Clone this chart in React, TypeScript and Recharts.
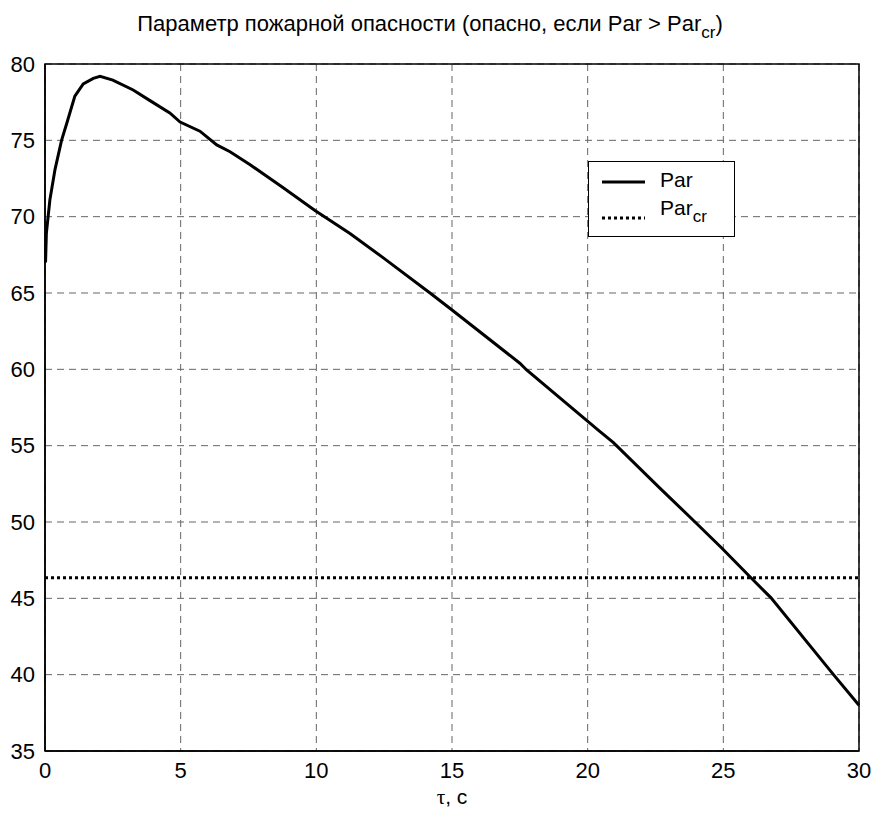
import React from 'react';
import {
  LineChart,
  Line,
  XAxis,
  YAxis,
  CartesianGrid,
  ReferenceLine,
  ReferenceArea,
} from 'recharts';

// Время, с
const tau = [
  0.02, 0.05, 0.18, 0.37, 0.61, 0.8, 1.1, 1.41, 1.78, 2.03, 2.5, 3.25, 3.87, 4.6,
  4.98, 5.71, 6.33, 6.82, 7.56, 8.78, 9.95, 11.24, 12.47, 14.19, 14.99, 17.5,
  17.75, 20.4, 20.95, 22.67, 23.9, 24.94, 25.99, 26.75, 29.06, 30,
];

// Параметр пожарной опасности Par
const par = [
  67.0, 68.9, 71.1, 73.1, 75.0, 76.1, 77.9, 78.7, 79.06, 79.2, 78.95, 78.3, 77.6,
  76.8, 76.2, 75.6, 74.7, 74.25, 73.4, 71.9, 70.4, 68.9, 67.3, 65.0, 63.9, 60.4,
  59.96, 56.0, 55.2, 52.2, 50.1, 48.3, 46.4, 45.05, 40.0, 38.0,
];

// Критическое значение Par_cr
const parCr = 46.35;

const xTicks = [0, 5, 10, 15, 20, 25, 30];
const yTicks = [35, 40, 45, 50, 55, 60, 65, 70, 75, 80];

const data = tau.map((t, i) => ({ t, par: par[i] }));

const FONT = '"Liberation Sans", Arial, sans-serif';
const TICK_FONT = 22;

// легенда рисуется поверх графика, чтобы не отнимать место у области построения
const LegendBox = () => (
  <div
    style={{
      position: 'absolute',
      left: 588,
      top: 161,
      width: 147,
      height: 76,
      border: '1.5px solid #000',
      background: '#fff',
      fontFamily: FONT,
      fontSize: 21,
      boxSizing: 'border-box',
    }}
  >
    <svg width={60} height={74} style={{ position: 'absolute', left: 0, top: 0 }}>
      <line x1={13} x2={56} y1={20} y2={20} stroke="#000" strokeWidth={3} />
      <line x1={13} x2={56} y1={56} y2={56} stroke="#000" strokeWidth={3} strokeDasharray="3 3" />
    </svg>
    <div style={{ position: 'absolute', left: 71, top: 6 }}>Par</div>
    <div style={{ position: 'absolute', left: 71, top: 34 }}>
      Par<sub style={{ fontSize: 17, verticalAlign: -7 }}>cr</sub>
    </div>
  </div>
);

export default function App() {
  return (
    <div style={{ position: 'absolute', left: 0, top: 0, width: 872, height: 814, background: '#fff' }}>
      <div
        style={{
          position: 'absolute',
          top: 11,
          left: 0,
          width: 872,
          textAlign: 'center',
          fontFamily: FONT,
          fontSize: 22,
          paddingRight: 12,
          boxSizing: 'border-box',
        }}
      >
        Параметр пожарной опасности (опасно, если Par &gt; Par
        <sub style={{ fontSize: 17, verticalAlign: -7 }}>cr</sub>)
      </div>
      <LineChart
        width={872}
        height={814}
        data={data}
        margin={{ top: 64, right: 13, left: 5, bottom: 33 }}
      >
        <CartesianGrid stroke="#666" strokeDasharray="7 5" />
        <XAxis
          dataKey="t"
          type="number"
          domain={[0, 30]}
          ticks={xTicks}
          height={30}
          tickLine={false}
          axisLine={{ stroke: '#000', strokeWidth: 1.5 }}
          tick={{ fontSize: TICK_FONT, fill: '#000', fontFamily: FONT }}
          tickMargin={5}
        />
        <YAxis
          type="number"
          domain={[35, 80]}
          ticks={yTicks}
          width={40}
          tickLine={false}
          axisLine={{ stroke: '#000', strokeWidth: 1.5 }}
          tick={{ fontSize: TICK_FONT, fill: '#000', fontFamily: FONT }}
          tickMargin={4}
        />
        <ReferenceArea x1={0} x2={30} y1={35} y2={80} fill="none" stroke="#000" strokeWidth={1.5} />
        <ReferenceLine y={parCr} stroke="#000" strokeWidth={3} strokeDasharray="3 3" />
        <Line
          type="linear"
          dataKey="par"
          stroke="#000"
          strokeWidth={3}
          dot={false}
          isAnimationActive={false}
        />
      </LineChart>
      <LegendBox />
      <div
        style={{
          position: 'absolute',
          top: 785,
          left: 0,
          width: 872,
          paddingLeft: 32,
          boxSizing: 'border-box',
          textAlign: 'center',
          fontFamily: FONT,
          fontSize: 21,
        }}
      >
        <span style={{ fontFamily: '"Liberation Serif", serif' }}>τ</span>, c
      </div>
    </div>
  );
}
